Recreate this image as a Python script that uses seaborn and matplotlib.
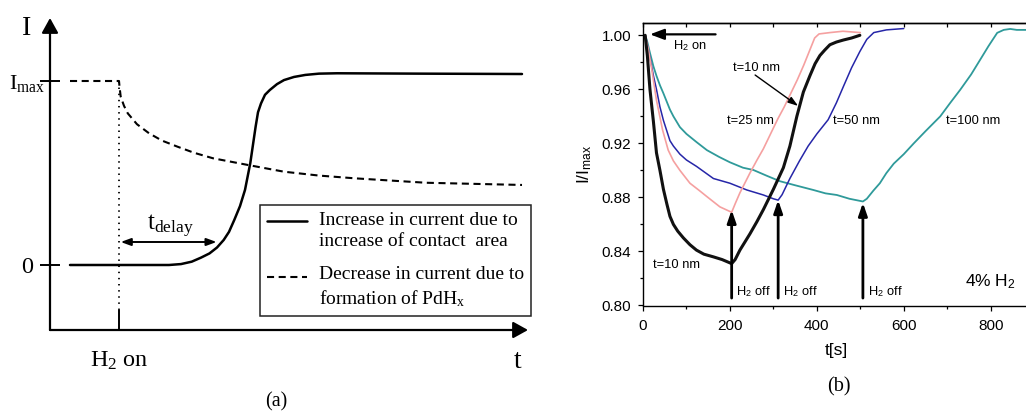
import numpy as np
import pandas as pd
import matplotlib
matplotlib.use("Agg")
import matplotlib.pyplot as plt
import seaborn as sns
from matplotlib.legend_handler import HandlerLine2D
from matplotlib.lines import Line2D
from matplotlib.transforms import Affine2D

sns.set_style("ticks")
plt.rcParams.update({
    "font.family": ["Liberation Sans", "DejaVu Sans"],
    "mathtext.fontset": "custom",
    "mathtext.rm": "Liberation Serif",
    "mathtext.it": "Liberation Serif:italic",
    "mathtext.bf": "Liberation Serif:bold",
    "mathtext.sf": "Liberation Sans",
    "axes.edgecolor": "black",
    "xtick.color": "black",
    "ytick.color": "black",
    "text.color": "black",
    "axes.labelcolor": "black",
})
SERIF = ["Liberation Serif", "DejaVu Serif"]
SANS = ["Liberation Sans", "DejaVu Sans"]

# ---------------- (a) schematic: time in arbitrary units, H2 on at t = 0 ----------------
contact_t = [-4.9, 5.0, 6.2, 7.27, 8.2, 9.05, 9.8, 10.47, 11.0, 11.53, 12.1, 12.6, 13.13,
             13.66, 13.9, 14.2, 14.6, 15.08, 15.8, 16.5, 17.5, 18.63, 20.0, 21.8, 30.0, 40.3]
contact_i = [0.0, 0.0, 0.005, 0.018, 0.04, 0.063, 0.095, 0.136, 0.18, 0.245, 0.32, 0.408, 0.554,
             0.751, 0.83, 0.878, 0.925, 0.951, 0.983, 1.005, 1.022, 1.033, 1.04, 1.042, 1.04, 1.038]
hydride_t = [-4.9, 0.0, 0.05, 0.17, 0.5, 0.88, 1.8, 3.0, 4.3, 5.85, 7.5, 9.4, 12.95, 16.5,
             20.0, 23.6, 30.7, 40.3]
hydride_i = [1.0, 1.0, 0.97, 0.915, 0.865, 0.824, 0.765, 0.716, 0.676, 0.643, 0.61, 0.58, 0.543,
             0.507, 0.486, 0.471, 0.447, 0.435]
h2_on_time = 0.0
i_levels = [0.0, 1.0]
i_level_labels = ["0", r"I$_{\rm max}$"]
delay_span = (0.17, 9.76)
delay_level = 0.125
label_contact = "Increase in current due to\nincrease of contact  area"
label_hydride = "Decrease in current due to\nformation of PdH$_{\\rm x}$"

# ---------------- (b) measured response, 4% H2 ----------------
t10 = [5, 10, 16, 24, 31, 39, 47, 55, 62, 70, 80, 93, 108, 123, 140, 162, 182, 204, 212, 223,
       246, 262, 277, 300, 323, 338, 354, 369, 384, 396, 407, 418, 430, 445, 461, 480, 499]
i10 = [1.000, 0.985, 0.960, 0.936, 0.913, 0.900, 0.886, 0.875, 0.866, 0.860, 0.855, 0.850,
       0.845, 0.841, 0.838, 0.836, 0.834, 0.831, 0.834, 0.841, 0.853, 0.862, 0.871, 0.886,
       0.902, 0.918, 0.940, 0.958, 0.970, 0.979, 0.985, 0.989, 0.993, 0.995, 0.9965, 0.998, 1.000]
t25 = [5, 12, 20, 31, 45, 58, 70, 85, 108, 130, 147, 177, 204, 213, 223, 246, 262, 277, 295,
       310, 325, 340, 355, 370, 385, 395, 405, 430, 460, 500]
i25 = [1.000, 0.990, 0.975, 0.952, 0.930, 0.915, 0.907, 0.900, 0.8905, 0.885, 0.8806, 0.873,
       0.869, 0.876, 0.8834, 0.898, 0.9075, 0.916, 0.928, 0.938, 0.947, 0.957, 0.967, 0.978,
       0.990, 0.998, 1.001, 1.002, 1.003, 1.002]
t50 = [5, 12, 24, 31, 39, 47, 55, 62, 70, 85, 100, 123, 162, 200, 239, 277, 300, 311, 320,
       338, 360, 380, 400, 426, 445, 461, 480, 499, 515, 531, 560, 600]
i50 = [1.000, 0.990, 0.970, 0.960, 0.947, 0.937, 0.929, 0.922, 0.918, 0.912, 0.9077, 0.903,
       0.894, 0.8905, 0.8855, 0.8818, 0.879, 0.878, 0.882, 0.894, 0.907, 0.918, 0.927, 0.9375,
       0.950, 0.962, 0.976, 0.988, 0.997, 1.002, 1.004, 1.005]
t100 = [5, 10, 16, 24, 31, 39, 47, 62, 70, 85, 100, 123, 147, 175, 200, 230, 254, 285, 315,
        350, 392, 420, 446, 475, 506, 515, 530, 545, 560, 577, 600, 623, 650, 684, 707, 730,
        755, 776, 795, 815, 830, 845, 860, 882]
i100 = [1.000, 0.995, 0.987, 0.977, 0.970, 0.963, 0.957, 0.945, 0.940, 0.932, 0.927, 0.921,
        0.915, 0.910, 0.906, 0.902, 0.9003, 0.896, 0.892, 0.889, 0.8855, 0.883, 0.8818, 0.879,
        0.877, 0.879, 0.885, 0.8905, 0.898, 0.905, 0.912, 0.920, 0.929, 0.940, 0.950, 0.9597,
        0.971, 0.982, 0.992, 1.0018, 1.004, 1.0047, 1.004, 1.004]
h2_off_times = [204, 311, 506]
h2_off_tips = [0.8707, 0.878, 0.876]


class FirstLineHandler(HandlerLine2D):
    """Legend line drawn level with the first line of a two-line label."""

    def create_artists(self, legend, orig_handle, xdescent, ydescent, width, height,
                       fontsize, trans):
        artists = super().create_artists(legend, orig_handle, xdescent, ydescent, width,
                                          height, fontsize, trans)
        lift = Affine2D().translate(0, 0.5 * fontsize)
        for a in artists:
            a.set_transform(lift + trans)
        return artists


fig = plt.figure(figsize=(10.26, 4.12), dpi=100)

# ---------------- panel (a) ----------------
ax_a = fig.add_axes([50 / 1026, 1 - 330 / 412, 478 / 1026, 312 / 412])
ax_a.set_xlim(-6.9, 40.9)
ax_a.set_ylim(-0.3533, 1.3424)
for s in ax_a.spines.values():
    s.set_visible(False)

dash = (0, (3.4, 2.2))
sns.lineplot(x=contact_t, y=contact_i, ax=ax_a, color="black", lw=1.8, sort=False,
             estimator=None, label=label_contact)
sns.lineplot(x=hydride_t, y=hydride_i, ax=ax_a, color="black", lw=1.5, sort=False,
             estimator=None, linestyle=dash, label=label_hydride)
ax_a.vlines(h2_on_time, -0.245, i_levels[1], color="black", lw=1.3, linestyle=(0, (0.8, 2.6)))

# axis arrows
arrow_kw = dict(arrowstyle="-|>,head_length=0.9,head_width=0.5", lw=1.6, color="black",
                mutation_scale=10, shrinkA=0, shrinkB=0)
ax_a.annotate("", xy=(1, 0), xytext=(0, 0), xycoords="axes fraction",
              textcoords="axes fraction", arrowprops=arrow_kw)
ax_a.annotate("", xy=(0, 1), xytext=(0, 0), xycoords="axes fraction",
              textcoords="axes fraction", arrowprops=arrow_kw)

ax_a.set_yticks(i_levels, i_level_labels)
ax_a.tick_params(axis="y", direction="inout", length=14.4, width=1.4, pad=9.5,
                 labelsize=17.5)
ax_a.set_xticks([h2_on_time], ["H$_{2}$ on"])
ax_a.tick_params(axis="x", direction="in", length=14.4, width=1.4, pad=14, labelsize=17.5)
for lab in ax_a.get_xticklabels() + ax_a.get_yticklabels():
    lab.set_family(SERIF)
for lab in ax_a.get_yticklabels():
    lab.set_horizontalalignment("center")
ax_a.get_yticklabels()[1].set_fontsize(16)

ax_a.annotate("", xy=(delay_span[1], delay_level), xytext=(delay_span[0], delay_level),
              arrowprops=dict(arrowstyle="<|-|>,head_length=0.6,head_width=0.22", lw=1.4,
                              color="black", mutation_scale=10, shrinkA=0, shrinkB=0))
ax_a.text(sum(delay_span) / 2 + 0.2, 0.19, r"t$_{\rm delay}$", ha="center", va="baseline",
          fontsize=18, family=SERIF)
ax_a.text(-0.048, 0.9455, "I", transform=ax_a.transAxes, ha="center", va="baseline",
          fontsize=20, family=SERIF)
ax_a.text(0.979, -0.1218, "t", transform=ax_a.transAxes, ha="center", va="baseline",
          fontsize=20, family=SERIF)

leg = ax_a.legend(loc="upper right", bbox_to_anchor=(531 / 1026, 1 - 205 / 412),
                  bbox_transform=fig.transFigure, borderaxespad=0,
                  prop={"family": SERIF, "size": 14}, handlelength=2.06,
                  handletextpad=0.62, borderpad=0.35, labelspacing=0.85, fancybox=False,
                  framealpha=1, edgecolor="#222222",
                  handler_map={Line2D: FirstLineHandler()})
leg.get_frame().set_linewidth(1.1)
for t in leg.get_texts():
    t.set_linespacing(1.3)

fig.text(276 / 1026, 1 - 402 / 412, "(a)", ha="center", va="center", fontsize=14.5,
         family=SERIF)

# ---------------- panel (b) ----------------
ax_b = fig.add_axes([643 / 1026, 1 - 305.5 / 412, 387 / 1026, 282.5 / 412])
curves = [
    (t100, i100, "#2f9a9a", 1.3),
    (t50, i50, "#2626a8", 1.1),
    (t25, i25, "#f5a0a0", 1.2),
    (t10, i10, "#111111", 2.2),
]
for tt, ii, col, lw in curves:
    df = pd.DataFrame({"t": tt, "I": ii})
    sns.lineplot(data=df, x="t", y="I", ax=ax_b, color=col, lw=lw,
                 sort=False, estimator=None, legend=False)

ax_b.set_xlim(0, 890.5)
ax_b.set_ylim(0.80, 1.0091)
ax_b.set_xticks([0, 200, 400, 600, 800])
ax_b.set_xticks(np.arange(100, 900, 200), minor=True)
ax_b.set_yticks(np.round(np.arange(0.80, 1.001, 0.04), 2))
ax_b.set_yticks(np.round(np.arange(0.82, 1.0, 0.04), 2), minor=True)
ax_b.yaxis.set_major_formatter(plt.FormatStrFormatter("%.2f"))
ax_b.tick_params(which="major", direction="out", length=3.6, width=0.9, labelsize=11, pad=5)
ax_b.tick_params(which="minor", direction="out", length=2.2, width=0.9)
ax_b.tick_params(axis="x", which="major", pad=6)
for s in ax_b.spines.values():
    s.set_linewidth(1.0)
top = ax_b.secondary_xaxis("top")
top.set_xticks(np.arange(0, 900, 100))
top.tick_params(direction="in", length=3, width=0.9, labeltop=False)
top.spines["top"].set_linewidth(1.0)

ax_b.set_xlabel("t[s]", fontsize=12.5, labelpad=7)
ax_b.set_ylabel(r"I/I$_\mathsf{max}$", fontsize=12.5, labelpad=5)

ax_b.annotate("", xy=(16, 1.0007), xytext=(167, 1.0007),
              arrowprops=dict(arrowstyle="-|>,head_length=0.85,head_width=0.32", lw=1.6,
                              color="black", mutation_scale=10, shrinkA=0, shrinkB=0))
ax_b.text(68.4, 0.9896, r"H$_\mathsf{2}$ on", fontsize=9.3, ha="left", va="baseline")
ax_b.text(206.4, 0.9736, "t=10 nm", fontsize=9.3, ha="left", va="baseline")
ax_b.annotate("", xy=(357, 0.9477), xytext=(258, 0.9706),
              arrowprops=dict(arrowstyle="-|>,head_length=0.6,head_width=0.2", lw=1.0,
                              color="black", mutation_scale=10, shrinkA=0, shrinkB=0))
ax_b.text(192.6, 0.9341, "t=25 nm", fontsize=9.3, ha="left", va="baseline")
ax_b.text(436.5, 0.9341, "t=50 nm", fontsize=9.3, ha="left", va="baseline")
ax_b.text(697, 0.9341, "t=100 nm", fontsize=9.3, ha="left", va="baseline")
ax_b.text(23.7, 0.8275, "t=10 nm", fontsize=9.3, ha="left", va="baseline")
for t_off, tip in zip(h2_off_times, h2_off_tips):
    ax_b.annotate("", xy=(t_off, tip), xytext=(t_off, 0.8055),
                  arrowprops=dict(arrowstyle="-|>,head_length=0.75,head_width=0.26", lw=2.0,
                                  color="black", mutation_scale=10, shrinkA=0, shrinkB=0))
    ax_b.text(t_off + 11, 0.8078, r"H$_\mathsf{2}$ off", fontsize=9.3, ha="left",
              va="baseline")
ax_b.text(741, 0.8139, r"4% H$_\mathsf{2}$", fontsize=12.5, ha="left", va="baseline")

fig.text(839 / 1026, 1 - 387 / 412, "(b)", ha="center", va="center", fontsize=14.5,
         family=SERIF)

fig.savefig("out.png", dpi=100)
